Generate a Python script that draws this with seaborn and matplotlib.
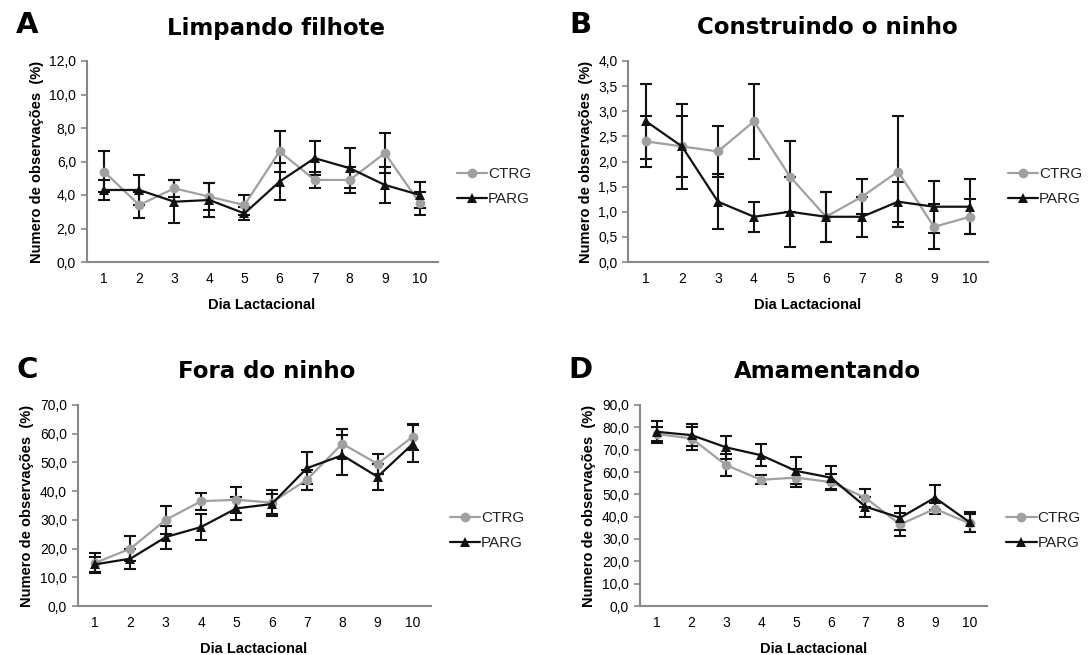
import matplotlib
matplotlib.use("Agg")
import matplotlib.pyplot as plt
import seaborn as sns
import pandas as pd

dias = [1, 2, 3, 4, 5, 6, 7, 8, 9, 10]

# A - Limpando filhote
limp_ctrg = [5.4, 3.4, 4.4, 3.9, 3.4, 6.6, 4.9, 4.9, 6.5, 3.5]
limp_ctrg_err = [1.2, 0.8, 0.5, 0.8, 0.6, 1.2, 0.5, 0.8, 1.2, 0.7]
limp_parg = [4.3, 4.3, 3.6, 3.7, 2.9, 4.8, 6.2, 5.6, 4.6, 4.0]
limp_parg_err = [0.6, 0.9, 1.3, 1.0, 0.4, 1.1, 1.0, 1.2, 1.1, 0.8]

# B - Construindo o ninho
cons_ctrg = [2.4, 2.3, 2.2, 2.8, 1.7, 0.9, 1.3, 1.8, 0.7, 0.9]
cons_ctrg_err = [0.5, 0.6, 0.5, 0.75, 0.7, 0.5, 0.35, 1.1, 0.45, 0.35]
cons_parg = [2.8, 2.3, 1.2, 0.9, 1.0, 0.9, 0.9, 1.2, 1.1, 1.1]
cons_parg_err = [0.75, 0.85, 0.55, 0.3, 0.7, 0.5, 0.4, 0.4, 0.52, 0.55]

# C - Fora do ninho
fora_ctrg = [15.0, 20.0, 30.0, 36.5, 37.0, 36.0, 44.0, 56.5, 49.5, 59.0]
fora_ctrg_err = [3.5, 4.5, 5.0, 3.0, 4.5, 4.5, 3.5, 5.0, 3.5, 4.5]
fora_parg = [14.5, 16.5, 24.0, 27.5, 34.0, 35.5, 48.0, 52.5, 45.0, 56.5]
fora_parg_err = [2.5, 3.5, 4.0, 4.5, 4.0, 3.5, 5.5, 7.0, 4.5, 6.5]

# D - Amamentando
amam_ctrg = [77.0, 75.0, 63.0, 56.5, 57.5, 55.5, 48.5, 36.5, 43.5, 37.0]
amam_ctrg_err = [3.0, 5.0, 5.0, 2.0, 4.0, 3.5, 4.0, 5.0, 2.5, 4.0]
amam_parg = [78.0, 76.5, 71.0, 67.5, 60.5, 57.5, 44.5, 39.5, 48.5, 37.5]
amam_parg_err = [5.0, 5.0, 5.0, 5.0, 6.0, 5.0, 4.5, 5.5, 5.5, 4.5]

sns.set_style("white")
plt.rcParams['font.family'] = ['Liberation Sans', 'DejaVu Sans']
plt.rcParams['text.color'] = 'black'
plt.rcParams['axes.labelcolor'] = 'black'
plt.rcParams['xtick.color'] = 'black'
plt.rcParams['ytick.color'] = 'black'

fig = plt.figure(figsize=(10.9, 6.55), dpi=100)

cor_ctrg = "#a0a0a0"
cor_parg = "#111111"

paineis = [
    # letra, titulo, dados, yticks, axes rect (px: left, right, top, bottom), titulo x, letra x
    ("A", "Limpando filhote", limp_ctrg, limp_ctrg_err, limp_parg, limp_parg_err,
     [0, 2, 4, 6, 8, 10, 12], (86.5, 437.5, 61, 262), 276, 27),
    ("B", "Construindo o ninho", cons_ctrg, cons_ctrg_err, cons_parg, cons_parg_err,
     [0, 0.5, 1, 1.5, 2, 2.5, 3, 3.5, 4], (628, 988, 61, 262), 827, 580),
    ("C", "Fora do ninho", fora_ctrg, fora_ctrg_err, fora_parg, fora_parg_err,
     [0, 10, 20, 30, 40, 50, 60, 70], (77.5, 430.5, 405, 606), 267, 27),
    ("D", "Amamentando", amam_ctrg, amam_ctrg_err, amam_parg, amam_parg_err,
     [0, 10, 20, 30, 40, 50, 60, 70, 80, 90], (639.5, 987, 405, 606), 827, 580),
]

W, H = 1090.0, 655.0
for letra, titulo, ctrg, ctrg_err, parg, parg_err, yt, (l, r, t, b), tx, lx in paineis:
    ax = fig.add_axes([l / W, 1 - b / H, (r - l) / W, (b - t) / H])
    df = pd.DataFrame({
        "dia": dias * 2,
        "valor": ctrg + parg,
        "grupo": ["CTRG"] * 10 + ["PARG"] * 10,
    })
    sns.lineplot(data=df, x="dia", y="valor", hue="grupo", style="grupo",
                 palette={"CTRG": cor_ctrg, "PARG": cor_parg},
                 markers={"CTRG": "o", "PARG": "^"}, dashes=False,
                 markersize=7, linewidth=1.6, markeredgewidth=0, ax=ax)
    ax.errorbar(dias, ctrg, yerr=ctrg_err, fmt="none", ecolor="#111111",
                elinewidth=1.5, capsize=4, capthick=1.5, zorder=1)
    ax.errorbar(dias, parg, yerr=parg_err, fmt="none", ecolor="#111111",
                elinewidth=1.5, capsize=4, capthick=1.5, zorder=1)

    ax.set_xlim(0.5, 10.5)
    ax.set_ylim(yt[0], yt[-1])
    ax.set_xticks(dias)
    ax.set_xticklabels([str(d) for d in dias], fontsize=10)
    ax.set_yticks(yt)
    ax.set_yticklabels([f"{v:.1f}".replace(".", ",") for v in yt], fontsize=10)
    ax.tick_params(axis="y", length=4, width=1.2, color="#888888", direction="out", left=True, pad=3.5)
    ax.tick_params(axis="x", length=0, pad=7)
    for s in ["top", "right"]:
        ax.spines[s].set_visible(False)
    for s in ["left", "bottom"]:
        ax.spines[s].set_color("#888888")
        ax.spines[s].set_linewidth(1.5)
    ax.set_xlabel("Dia Lactacional", fontsize=10.5, fontweight="bold", labelpad=9)
    ax.set_ylabel("Numero de observações  (%)", fontsize=10.5, fontweight="bold", labelpad=4)

    leg = ax.legend(loc="center left", bbox_to_anchor=(1.055, 0.375), frameon=False,
                    borderaxespad=0, borderpad=0,
                    fontsize=11, handlelength=2.0, handletextpad=0.05, labelspacing=0.7)
    for txt in leg.get_texts():
        txt.set_color("#222222")

    fig.text(tx / W, 1 - 28 / H if letra in "AB" else 1 - 372 / H, titulo,
             ha="center", va="center", fontsize=16.5, fontweight="bold", family="DejaVu Sans")
    fig.text(lx / W, 1 - 25 / H if letra in "AB" else 1 - 370 / H, letra,
             ha="center", va="center", fontsize=21, fontweight="bold", family="DejaVu Sans")

fig.savefig("out.png", dpi=100)
